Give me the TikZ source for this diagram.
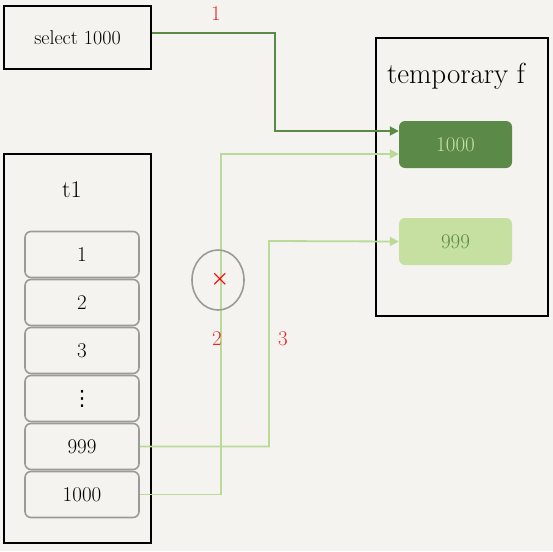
\documentclass[tikz,border=0pt]{standalone}
\usepackage{amsmath}
\usepackage{fontspec}
\newfontfamily\symfont{DejaVu Sans}
\usetikzlibrary{arrows.meta,shapes.geometric}
\definecolor{bg}{HTML}{F5F3EF}
\definecolor{dgreen}{HTML}{5B8A48}
\definecolor{lgreen}{HTML}{BADB98}
\definecolor{lfill}{HTML}{C6E0A2}
\definecolor{mark}{HTML}{E8272A}
\definecolor{rowgray}{HTML}{9A9A9A}
\newcommand{\fsz}[1]{\fontsize{#1}{#1}\selectfont}
\begin{document}
\begin{tikzpicture}[x=1pt,y=-1pt,
  box/.style={draw=black,line width=2pt,fill=bg},
  row/.style={draw=rowgray,line width=1.6pt,rounded corners=6pt,minimum width=114pt,minimum height=46pt,font=\fsz{21}},
  res/.style={rounded corners=6pt,minimum width=113pt,minimum height=47pt,font=\fsz{21}},
  lnk/.style={line width=1.8pt,-{Triangle[length=9pt,width=9pt]}},
  num/.style={text=mark,font=\fsz{21}}]
\fill[bg] (0,0) rectangle (553,551);
\useasboundingbox (0,0) rectangle (553,551);
% boxes
\node [box,minimum width=147pt,minimum height=63pt,font=\fsz{20}] (sel) at (77.5,37.5) {select 1000};
\node [box,minimum width=147pt,minimum height=389pt] (t1) at (77.5,348.5) {};
\node [font=\fsz{24}] (t1title) at (72,190) {t1};
\node [box,minimum width=172pt,minimum height=278pt] (tmp) at (462,177) {};
\node [font=\fsz{29}] (tmptitle) at (456,76) {temporary f};
% rows of t1
\foreach \t [count=\i] in {1,2,3,{{\symfont ⋮}},999,1000}
  \node [row] (r\i) at (82,206.5+48*\i) {\t};
% rows of temporary f
\node [res,fill=dgreen,text=lfill] (f1000) at (455.5,144.5) {1000};
\node [res,fill=lfill,text=dgreen] (f999) at (455.5,241.5) {999};
% connectors
\draw [lnk,dgreen] ([yshift=4.5pt]sel.east) -| (275,131) -- ([yshift=13.5pt]f1000.west);
\coordinate (k2) at (221,154);
\coordinate (k3) at (269,241);
\draw [lnk,lgreen] (r6.east) -| (k2) -- ([yshift=-9.5pt]f1000.west);
\draw [lnk,lgreen] (r5.east) -| (k3) -- (f999.west);
% rejected step
\node [draw=rowgray,line width=1.6pt,ellipse,minimum width=52pt,minimum height=60pt] (stop) at (218,280) {};
\node [text=red,font=\fsz{20}\bfseries] (cross) at (220,279) {$\boldsymbol{\times}$};
% step numbers
\node [num] (n1) at (216,14) {1};
\node [num] (n2) at (217,339) {2};
\node [num] (n3) at (283,339) {3};
\end{tikzpicture}
\end{document}
